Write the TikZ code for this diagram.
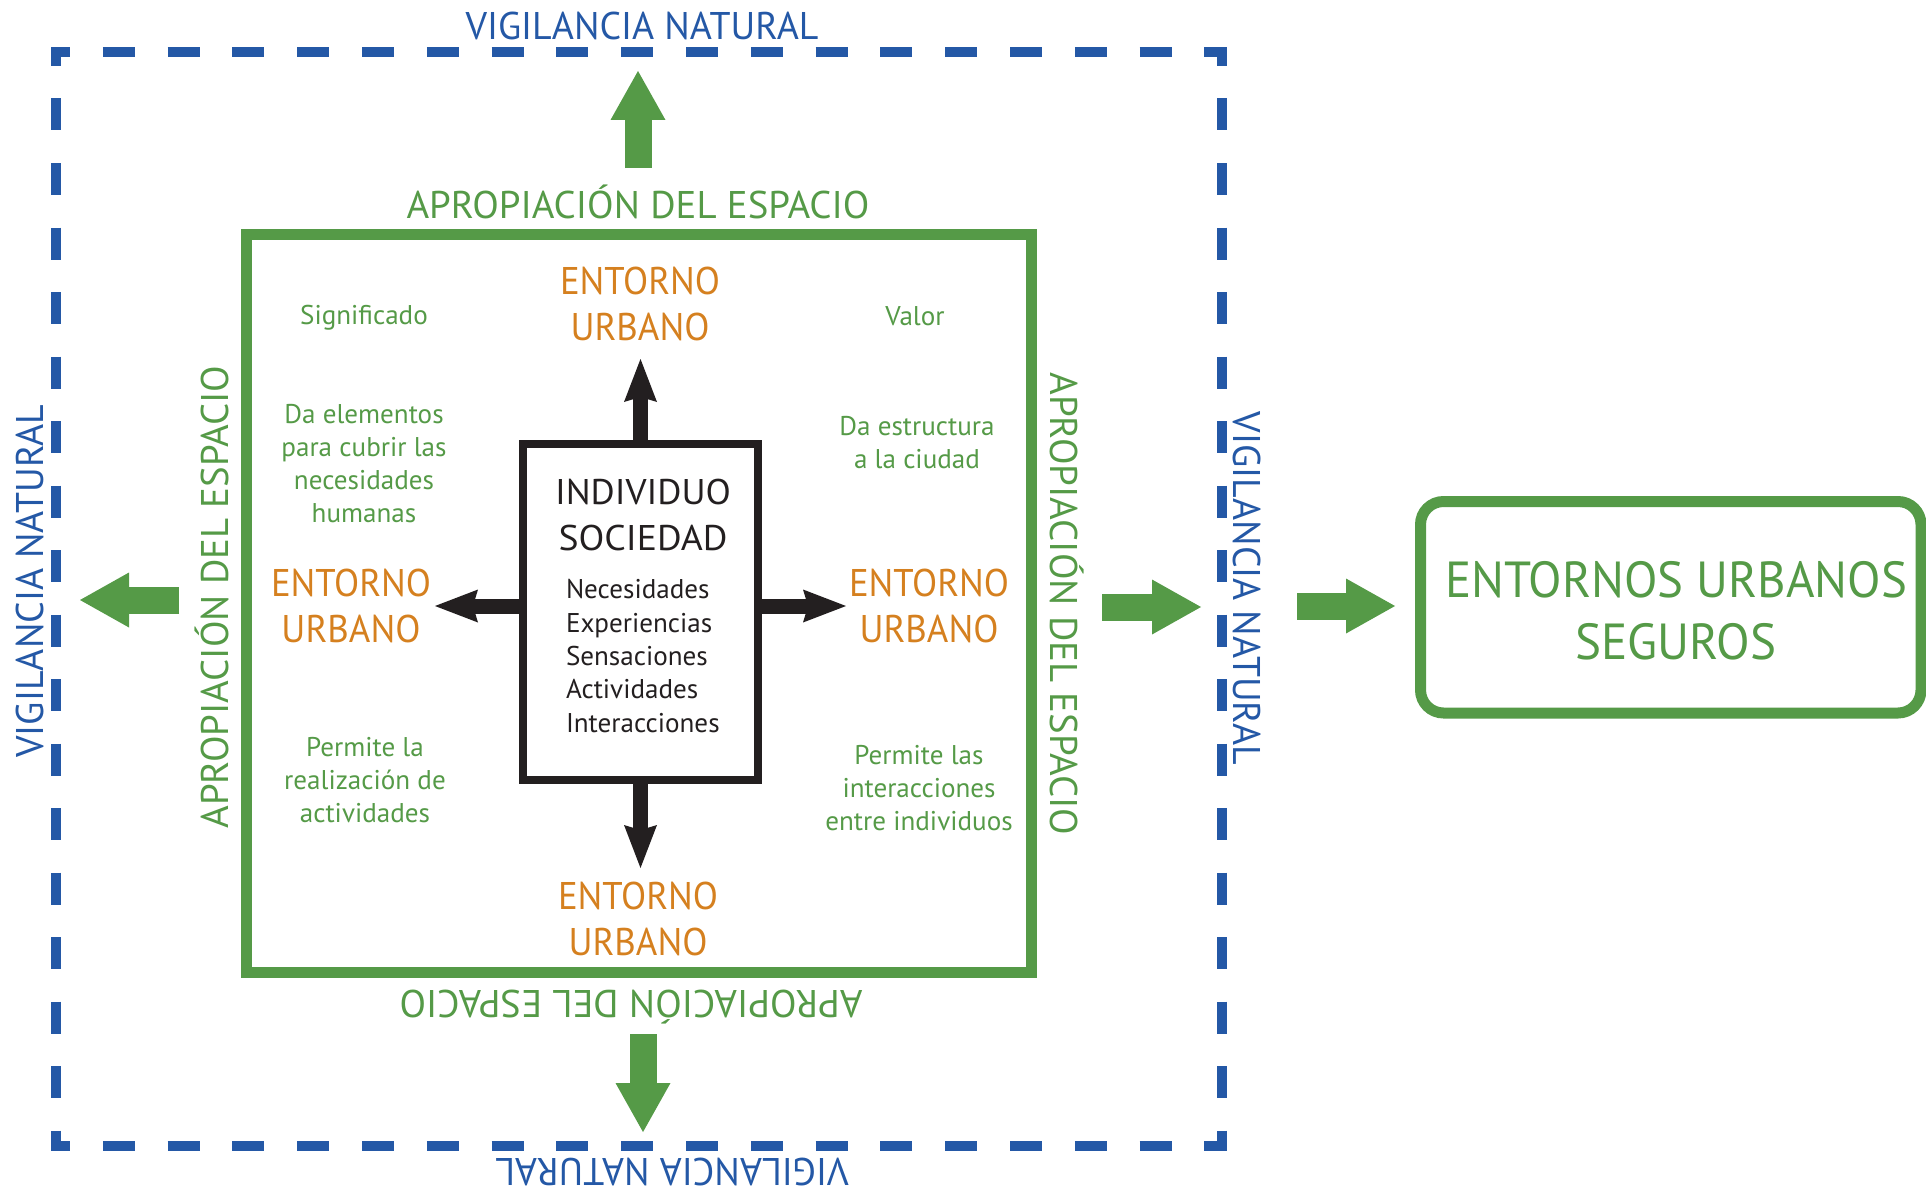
\documentclass[tikz,border=0pt]{standalone}
\usepackage{fontspec}
\setmainfont{PT Sans}
\usepackage{graphicx}
\usetikzlibrary{arrows.meta}
\definecolor{vblue}{RGB}{36,88,166}
\definecolor{vgreen}{RGB}{85,154,71}
\definecolor{vorange}{RGB}{213,128,31}
\definecolor{vblack}{RGB}{35,31,32}
\newcommand{\fitw}[2]{\resizebox{#1}{\height}{#2}}
\begin{document}
\begin{tikzpicture}[x=1pt,y=-1pt,
  lab/.style={inner sep=0pt, outer sep=0pt},
  bigcap/.style={lab, font=\fontsize{38.6}{46}\selectfont},
  vlab/.style={bigcap, text=vblue, anchor=base},
  alab/.style={bigcap, text=vgreen, anchor=base},
  ent/.style={bigcap, text=vorange, align=center},
  note/.style={lab, text=vgreen, align=center, font=\fontsize{27.1}{33}\selectfont},
  blkarrow/.style={draw=vblack, line width=15pt, -{Stealth[length=43pt,width=33pt,inset=5pt,line width=0pt]}},
  grnarrow/.style={draw=vgreen, line width=27pt, -{Triangle[length=49pt,width=55pt,line width=0pt]}},
  hdash/.style={draw=vblue, line width=10pt, dash pattern=on 32pt off 32.8pt, dash phase=13pt},
  vdash/.style={draw=vblue, line width=10pt, dash pattern=on 32pt off 32.5pt, dash phase=18pt},
]
\useasboundingbox (0,0) rectangle (1926,1188);

% blue dashed frame
\draw[hdash] (51,52) -- (1227,52);
\draw[hdash] (51,1146) -- (1227,1146);
\draw[vdash] (56,52) -- (56,1146);
\draw[vdash] (1222,52) -- (1222,1146);

% green frame and central box
\node[draw=vgreen, line width=11pt, minimum width=785pt, minimum height=738pt, inner sep=0pt] (frame) at (638.5,603) {};
\node[draw=vblack, line width=8pt, minimum width=235pt, minimum height=336pt, inner sep=0pt] (box) at (640.5,612) {};
\node[draw=vgreen, line width=11pt, rounded corners=23pt, minimum width=500.5pt, minimum height=211.5pt, inner sep=0pt] (goal) at (1670.75,607.25) {};
\node[lab, text=vgreen, align=center, font=\fontsize{50.7}{62}\selectfont] (goaltext) at (1676,611)
      {\fitw{462pt}{ENTORNOS URBANOS}\\\fitw{201pt}{SEGUROS}};

% labels: vigilancia natural
\node[vlab] (vtop) at (642,40) {\fitw{353pt}{VIGILANCIA NATURAL}};
\node[vlab, rotate=90] (vleft) at (43,581) {\fitw{353pt}{VIGILANCIA NATURAL}};
\node[vlab, rotate=-90] (vright) at (1233,588.5) {\fitw{353pt}{VIGILANCIA NATURAL}};
\node[vlab, rotate=180] (vbot) at (672,1158) {\fitw{353pt}{VIGILANCIA NATURAL}};

% labels: apropiacion del espacio
\node[alab] (atop) at (638,218) {\fitw{463pt}{APROPIACIÓN DEL ESPACIO}};
\node[alab, rotate=90] (aleft) at (228,597) {\fitw{463pt}{APROPIACIÓN DEL ESPACIO}};
\node[alab, rotate=-90] (aright) at (1050,604) {\fitw{463pt}{APROPIACIÓN DEL ESPACIO}};
\node[alab, rotate=180] (abot) at (631,990) {\fitw{463pt}{APROPIACIÓN DEL ESPACIO}};

% entorno urbano
\node[ent] (eT) at (640,304) {\fitw{160pt}{ENTORNO}\\\fitw{139pt}{URBANO}};
\node[ent] (eL) at (351,606) {\fitw{160pt}{ENTORNO}\\\fitw{139pt}{URBANO}};
\node[ent] (eR) at (929,605.5) {\fitw{160pt}{ENTORNO}\\\fitw{139pt}{URBANO}};
\node[ent] (eB) at (638,919) {\fitw{160pt}{ENTORNO}\\\fitw{139pt}{URBANO}};

% box content
\node[lab, text=vblack, align=center, font=\fontsize{35.7}{46}\selectfont] (indiv) at (643,515)
     {\fitw{176pt}{INDIVIDUO}\\\fitw{169pt}{SOCIEDAD}};
\node[lab, anchor=west, align=left, text=vblack, font=\fontsize{27.1}{33.4}\selectfont] (list) at (566,656)
     {Necesidades\\Experiencias\\Sensaciones\\Actividades\\Interacciones};

% green notes
\node[note] (n1) at (364,318) {Significado};
\node[note] (n2) at (364,464) {Da elementos\\para cubrir las\\necesidades\\humanas};
\node[note] (n3) at (365,780) {Permite la\\realización de\\actividades};
\node[note] (n4) at (915,316) {Valor};
\node[note] (n5) at (917,443) {Da estructura\\a la ciudad};
\node[note] (n6) at (919,788) {Permite las\\interacciones\\entre individuos};

% black arrows
\coordinate (tipL) at (435,606);
\coordinate (tipR) at (846,606);
\coordinate (tipT) at (640.5,359);
\coordinate (tipB) at (640.5,868);
\draw[blkarrow] (box.west |- tipL) -- (tipL);
\draw[blkarrow] (box.east |- tipR) -- (tipR);
\draw[blkarrow] (box.north) -- (tipT);
\draw[blkarrow] (box.south) -- (tipB);

% green arrows
\coordinate (gT0) at (638,168);  \coordinate (gT1) at (638,71);
\coordinate (gB0) at (643,1034); \coordinate (gB1) at (643,1132);
\coordinate (gL0) at (179,600);  \coordinate (gL1) at (80,600);
\coordinate (gR0) at (1102,607); \coordinate (gR1) at (1201,607);
\coordinate (gS0) at (1297,606); \coordinate (gS1) at (1395,606);
\draw[grnarrow] (gT0) -- (gT1);
\draw[grnarrow] (gB0) -- (gB1);
\draw[grnarrow] (gL0) -- (gL1);
\draw[grnarrow] (gR0) -- (gR1);
\draw[grnarrow] (gS0) -- (gS1);
\end{tikzpicture}
\end{document}
